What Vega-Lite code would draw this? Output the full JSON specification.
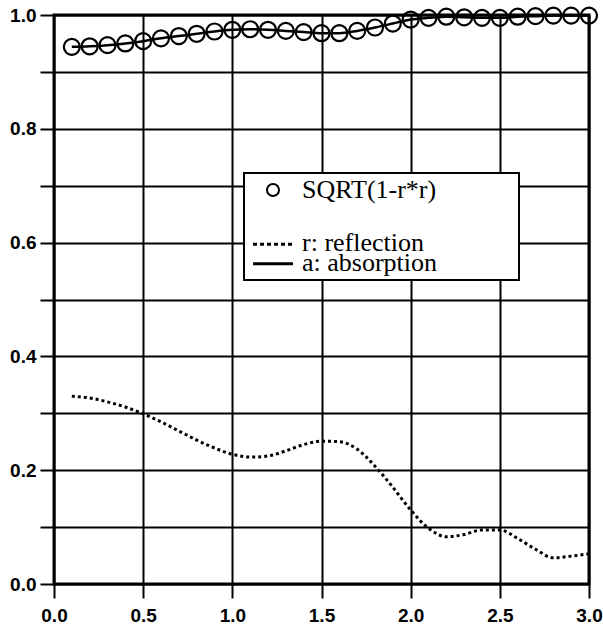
{
"$schema":"https://vega.github.io/schema/vega-lite/v6.json",
"width":535,"height":569,
"autosize":{"type":"none"},
"padding":{"left":54,"top":15,"right":14,"bottom":46},
"background":"white",
"config":{
 "view":{"stroke":"black","strokeWidth":3},
 "font":"Liberation Serif",
 "axis":{"domain":false,"grid":true,"gridColor":"black","gridOpacity":1,"gridWidth":2,"tickColor":"black","tickWidth":2,"tickSize":14,"labelFont":"Liberation Sans","labelFontSize":19,"labelFontWeight":"bold","labelColor":"black","labelFlush":false,"labelOverlap":false}
},
"data":{"values":[
{"x":0.1,"r":0.330,"s":0.944},{"x":0.2,"r":0.327,"s":0.945},{"x":0.3,"r":0.320,"s":0.947},{"x":0.4,"r":0.311,"s":0.950},{"x":0.5,"r":0.299,"s":0.954},
{"x":0.6,"r":0.285,"s":0.959},{"x":0.7,"r":0.269,"s":0.963},{"x":0.8,"r":0.253,"s":0.967},{"x":0.9,"r":0.239,"s":0.971},{"x":1.0,"r":0.228,"s":0.974},
{"x":1.1,"r":0.223,"s":0.975},{"x":1.2,"r":0.225,"s":0.974},{"x":1.3,"r":0.234,"s":0.972},{"x":1.4,"r":0.245,"s":0.970},{"x":1.5,"r":0.251,"s":0.968},
{"x":1.6,"r":0.250,"s":0.968},{"x":1.7,"r":0.237,"s":0.972},{"x":1.8,"r":0.207,"s":0.978},{"x":1.9,"r":0.170,"s":0.985},{"x":2.0,"r":0.130,"s":0.992},
{"x":2.1,"r":0.098,"s":0.995},{"x":2.2,"r":0.083,"s":0.997},{"x":2.3,"r":0.087,"s":0.996},{"x":2.4,"r":0.095,"s":0.995},{"x":2.5,"r":0.095,"s":0.995},
{"x":2.6,"r":0.080,"s":0.997},{"x":2.7,"r":0.061,"s":0.998},{"x":2.8,"r":0.046,"s":0.999},{"x":2.9,"r":0.049,"s":0.999},{"x":3.0,"r":0.053,"s":0.999}
]},
"encoding":{
 "x":{"field":"x","type":"quantitative","scale":{"domain":[0,3],"nice":false},"axis":{"title":null,"values":[0,0.5,1,1.5,2,2.5,3],"format":".1f","labelPadding":8}}
},
"layer":[
 {"mark":{"type":"line","strokeWidth":2.5,"interpolate":"monotone"},
  "encoding":{
   "y":{"field":"s","type":"quantitative","scale":{"domain":[0,1],"nice":false},"axis":{"title":null,"values":[0,0.1,0.2,0.3,0.4,0.5,0.6,0.7,0.8,0.9,1.0],"labelExpr":"round(datum.value*10) % 2 == 0 ? format(datum.value, '.1f') : ''","labelPadding":4}},
   "color":{"datum":"a: absorption","type":"nominal",
     "scale":{"domain":["SQRT(1-r*r)","r: reflection","a: absorption"],"range":["black","black","black"]},
     "legend":{"orient":"none","legendX":190,"legendY":158,"title":null,"fillColor":"white","strokeColor":"black","padding":4,
       "values":["SQRT(1-r*r)","r: reflection"],
       "symbolSize":144,"symbolOffset":12,"labelOffset":16,"labelFont":"Liberation Serif","labelFontSize":26,"labelColor":"black","rowPadding":27,"labelLimit":400,
       "encode":{
        "legend":{"update":{"strokeWidth":{"value":2}}},
        "symbols":{"update":{
          "shape":{"signal":"datum.value == 'SQRT(1-r*r)' ? 'circle' : 'M-3.33,0.2H-2.67M-2.17,0.2H-1.5M-1,0.2H-0.33M0.17,0.2H0.83M1.33,0.2H2M2.5,0.2H3.17M-3.33,3.45H3.33'"},
          "size":{"value":144},
          "strokeWidth":{"signal":"datum.value == 'SQRT(1-r*r)' ? 2 : 3"},
          "stroke":{"value":"black"},
          "fill":{"value":"transparent"},
          "opacity":{"value":1}
        }},
        "labels":{"update":{
          "lineHeight":{"value":20},
          "text":{"signal":"datum.value == 'SQRT(1-r*r)' ? 'SQRT(1-r*r)\u00a0\u00a0\u00a0\u00a0\u00a0\u00a0\u00a0\u00a0\u00a0\u00a0\u00a0\u00a0\u200b' : ['r: reflection', 'a: absorption']"}
        }}
       }}}
  }},
 {"mark":{"type":"line","strokeWidth":3,"strokeDash":[3,3],"interpolate":"monotone"},
  "encoding":{"y":{"field":"r","type":"quantitative"},"color":{"datum":"r: reflection","type":"nominal"}}},
 {"mark":{"type":"point","shape":"circle","filled":false,"size":256,"strokeWidth":2.2,"opacity":1},
  "encoding":{"y":{"field":"s","type":"quantitative"},"color":{"datum":"SQRT(1-r*r)","type":"nominal"}}}
]
}
